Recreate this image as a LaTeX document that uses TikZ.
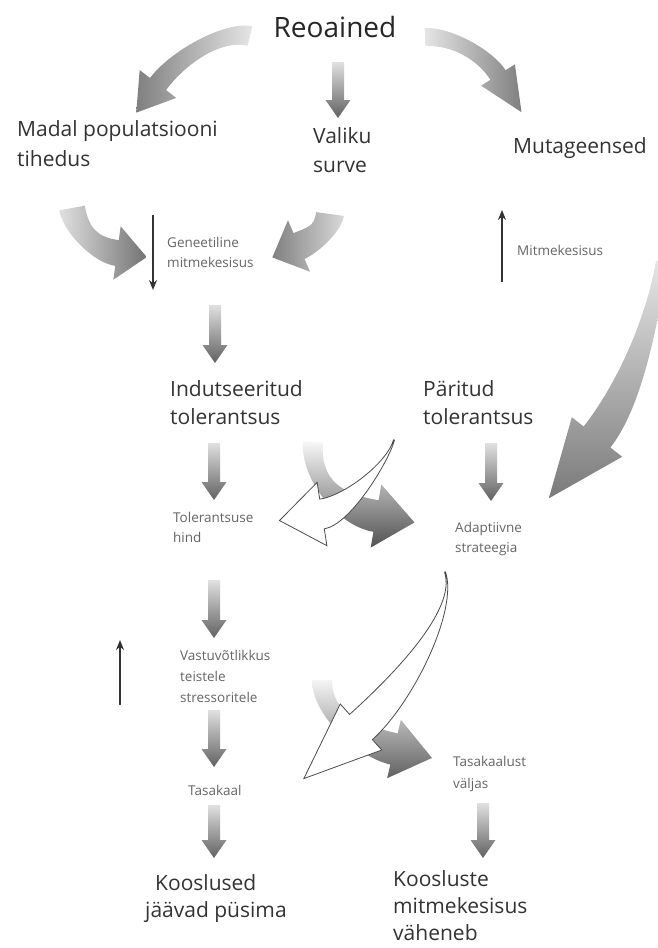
\documentclass[tikz,border=0pt]{standalone}
\usepackage{fontspec}
\setmainfont{Open Sans}
\usetikzlibrary{calc,arrows.meta}

\newcommand\grayarrow[2]{%
  \shade[top color=black!12,bottom color=black!62] let \p1=(#1), \p2=(#2) in
    (\x1-6pt,\y1) -- (\x1+6pt,\y1) -- (\x1+6pt,\y2+18pt) -- (\x1+12.5pt,\y2+18pt)
    -- (\x1,\y2) -- (\x1-12.5pt,\y2+18pt) -- (\x1-6pt,\y2+18pt) -- cycle;}
\newcommand\bentarrow[9]{%
  \path[#9] ($(#1)!#5!90:(#2)$) .. controls ($(#2)!#5!-90:(#1)$) and ($(#3)!#6!90:(#4)$) .. ($(#4)!#6!-90:(#3)$)
    -- ($(#4)!#7!-90:(#3)$) -- ($(#4)!#8!180:(#3)$) -- ($(#4)!#7!90:(#3)$) -- ($(#4)!#6!90:(#3)$)
    .. controls ($(#3)!#6!-90:(#4)$) and ($(#2)!#5!90:(#1)$) .. ($(#1)!#5!-90:(#2)$) -- cycle;}

\begin{document}
\begin{tikzpicture}[x=1pt,y=-1pt,
  big/.style={font=\fontsize{21}{28}\selectfont,text=black!80,inner sep=0pt,align=left,anchor=base west},
  small/.style={font=\fontsize{13.5}{20}\selectfont,text=black!60,inner sep=0pt,align=left,anchor=base west},
  blackarrow/.style={draw=black!80,line width=2.4pt,-{Stealth[length=10pt,width=8pt]}},
  whitearrow/.style={fill=white,draw=black!70,line width=0.8pt}]
\path[use as bounding box,fill=white] (0,0) rectangle (657,948);

\node[font=\fontsize{28}{34}\selectfont,text=black!85,inner sep=0pt,anchor=base] (reo) at (335,37) {Reoained};
\node[big,font=\fontsize{21}{30}\selectfont] (madal) at (17,166) {Madal populatsiooni\\tihedus};
\node[big,font=\fontsize{21}{29}\selectfont] (valiku) at (313,172) {Valiku\\surve};
\node[big] (mutag) at (513,153) {Mutageensed};
\node[small] (genmit) at (167,267) {Geneetiline\\mitmekesisus};
\node[small] (mitm) at (517,255) {Mitmekesisus};
\node[big] (indut) at (170,424) {Indutseeritud\\tolerantsus};
\node[big] (parit) at (423,424) {Päritud\\tolerantsus};
\node[small] (tolhind) at (173,542) {Tolerantsuse\\hind};
\node[small] (adapt) at (455,552) {Adaptiivne\\strateegia};
\node[small,font=\fontsize{13.5}{21}\selectfont] (vastuv) at (180,702) {Vastuvõtlikkus\\teistele\\stressoritele};
\node[small] (tasak) at (188,795) {Tasakaal};
\node[small,font=\fontsize{13.5}{22}\selectfont] (tasvalj) at (453,788) {Tasakaalust\\väljas};
\node[big,font=\fontsize{21}{27}\selectfont] (koos) at (145,917) {\hspace*{10pt}Kooslused\\jäävad püsima};
\node[big,font=\fontsize{21}{27}\selectfont] (koosmit) at (393,940) {Koosluste\\mitmekesisus\\väheneb};

\coordinate (reo-s) at (338,62);   \coordinate (valiku-n) at (338,118);
\coordinate (genmit-s) at (215,305); \coordinate (indut-n) at (215,363);
\coordinate (indut-s) at (214,443); \coordinate (tolhind-n) at (214,500);
\coordinate (parit-s) at (491,443); \coordinate (adapt-n) at (491,501);
\coordinate (tolhind-s) at (214,580); \coordinate (vastuv-n) at (214,638);
\coordinate (vastuv-s) at (214,710); \coordinate (tasak-n) at (214,767);
\coordinate (tasak-s) at (214,805); \coordinate (koos-n) at (214,858);
\coordinate (tasvalj-s) at (483,803); \coordinate (koosmit-n) at (483,858);

\grayarrow{reo-s}{valiku-n}
\grayarrow{genmit-s}{indut-n}
\grayarrow{indut-s}{tolhind-n}
\grayarrow{parit-s}{adapt-n}
\grayarrow{tolhind-s}{vastuv-n}
\grayarrow{vastuv-s}{tasak-n}
\grayarrow{tasak-s}{koos-n}
\grayarrow{tasvalj-s}{koosmit-n}

\bentarrow{250,36}{225,30}{180,55}{158,84}{10pt}{10pt}{23pt}{36pt}{shade,left color=black!50,right color=black!10}
\bentarrow{425,37}{453,36}{486,56}{498,75}{9pt}{9pt}{20pt}{44pt}{shade,left color=black!10,right color=black!50}
\bentarrow{72,208}{76,230}{95,250}{117,253}{13pt}{13pt}{27pt}{30pt}{shade,left color=black!12,right color=black!55}
\bentarrow{330,214}{328,229}{313,240}{299,246}{14pt}{14pt}{28pt}{29pt}{shade,left color=black!50,right color=black!15}
\bentarrow{662,262}{652,320}{630,395}{597,437}{6pt}{17pt}{32pt}{78pt}{shade,top color=black!10,bottom color=black!52}
\bentarrow{313,442}{310,480}{340,510}{376,516}{10pt}{16pt}{32pt}{39pt}{shade,top color=black!3,bottom color=black!68}
\bentarrow{394,440}{388,462}{348,510}{322,514}{0.5pt}{15pt}{32pt}{43pt}{whitearrow}
\bentarrow{322,680}{322,715}{360,741}{394,749}{10pt}{16pt}{30pt}{39pt}{shade,top color=black!4,bottom color=black!62}
\bentarrow{445,572}{458,610}{402,690}{361,727}{0.5pt}{17pt}{31pt}{77pt}{whitearrow}

\coordinate (gen-top) at (153,215); \coordinate (gen-bot) at (153,290);
\coordinate (mitm-bot) at (502,282); \coordinate (mitm-top) at (502,210);
\coordinate (vas-bot) at (120,705); \coordinate (vas-top) at (120,640);
\draw[blackarrow] (gen-top) -- (gen-bot);
\draw[blackarrow] (mitm-bot) -- (mitm-top);
\draw[blackarrow] (vas-bot) -- (vas-top);
\end{tikzpicture}
\end{document}
